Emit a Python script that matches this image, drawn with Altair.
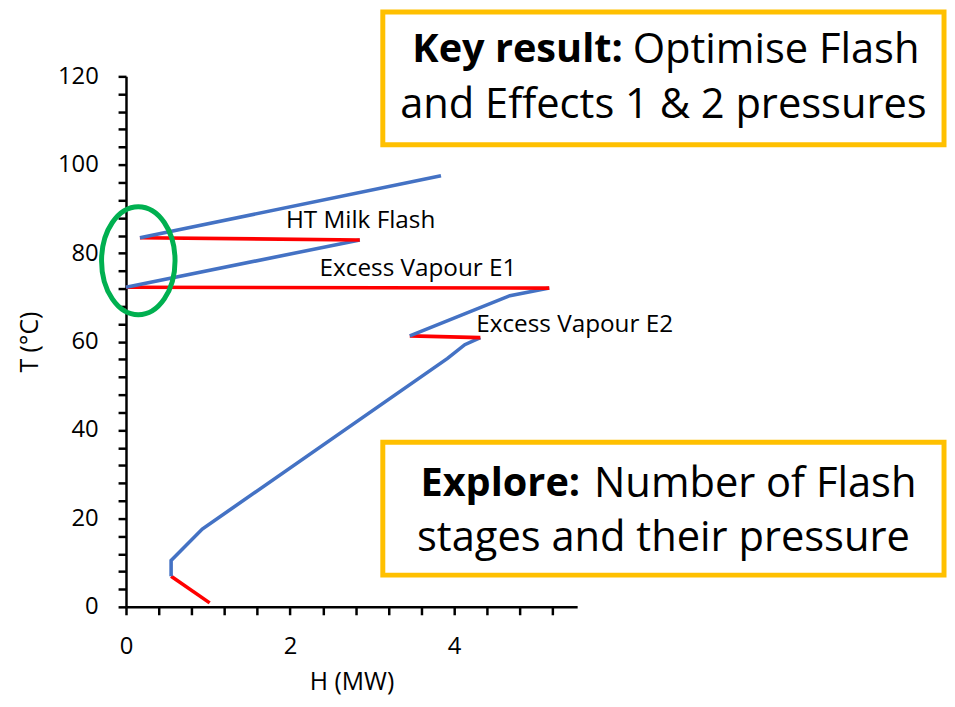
import altair as alt
import pandas as pd

# ---- curve data ----
H_MW = [1.02, 0.55, 0.55, 0.93, 3.92, 4.13, 4.32, 3.46, 4.68, 5.16, 0.00, 2.85, 0.17, 3.84]
T_C = [0.9, 6.9, 10.5, 17.6, 56.2, 59.3, 60.9, 61.3, 70.4, 72.1, 72.3, 83.0, 83.5, 97.5]
SEG_COLOUR = ["red", "blue", "blue", "blue", "blue", "blue", "red", "blue", "blue",
              "red", "blue", "red", "blue"]

# ---- in-chart labels ----
LABEL_TEXT = ["HT Milk Flash", "Excess Vapour E1", "Excess Vapour E2"]
LABEL_H = [2.86, 3.56, 5.47]
LABEL_T = [87.3, 76.4, 63.7]

# ---- highlight ellipse ----
ELLIPSE_H = [0.15]
ELLIPSE_T = [78.3]

# ---- text boxes ----
BOX_BOLD = ["Key result:", "Explore:"]
BOX_REST = ["Optimise Flash", "Number of Flash"]
BOX_LINE2 = ["and Effects 1 & 2 pressures", "stages and their pressure"]

# ticks
X_TICKS = [round(i * 0.4, 1) for i in range(14)]
Y_TICKS = list(range(0, 121, 4))

FONT = "Open Sans"

rows = []
run = 0
for i, c in enumerate(SEG_COLOUR):
    if i > 0 and c != SEG_COLOUR[i - 1]:
        run += 1
    rows.append(dict(run=run, order=i, H=H_MW[i], T=T_C[i], colour=c))
    rows.append(dict(run=run, order=i + 1, H=H_MW[i + 1], T=T_C[i + 1], colour=c))
curve = pd.DataFrame(rows).drop_duplicates(subset=["run", "order"])

xs = alt.Scale(domain=[0, 5.5], nice=False, zero=False)
ys = alt.Scale(domain=[0, 120], nice=False, zero=False)

common_axis = dict(
    grid=False, tickSize=8, tickWidth=2.5, domainWidth=2.5, tickCount=200,
    domainColor="black", tickColor="black", labelColor="black",
    labelFontSize=24, labelFont=FONT, labelPadding=20,
    titleFontSize=25, titleFont=FONT, titleFontWeight="normal", titleColor="black",
    titleBaseline="middle", labelFlush=False, labelOverlap=False,
)
x_axis = alt.Axis(
    values=X_TICKS,
    labelExpr="abs(datum.value - round(datum.value / 2) * 2) < 0.001 ? format(datum.value, 'd') : ''",
    titleY=75, **common_axis,
)
y_axis = alt.Axis(
    values=Y_TICKS,
    labelExpr="datum.value % 20 == 0 ? format(datum.value, 'd') : ''",
    titleX=-97, **common_axis,
)

X_ENC = alt.X("H:Q", scale=xs, axis=x_axis, title="H (MW)")
Y_ENC = alt.Y("T:Q", scale=ys, axis=y_axis, title="T (°C)")

lines = alt.Chart(curve).mark_line(strokeWidth=3.6, clip=False).encode(
    x=X_ENC,
    y=Y_ENC,
    color=alt.Color("colour:N", scale=alt.Scale(domain=["blue", "red"],
                                                range=["#4472C4", "#FF0000"]), legend=None),
    detail="run:N",
    order="order:Q",
)

labels = alt.Chart(pd.DataFrame({"text": LABEL_TEXT, "H": LABEL_H, "T": LABEL_T})).mark_text(
    font=FONT, fontSize=24.5, color="black", align="center", baseline="middle", clip=False
).encode(x=X_ENC, y=Y_ENC, text="text:N")

ellipse = alt.Chart(pd.DataFrame({"H": ELLIPSE_H, "T": ELLIPSE_T})).mark_point(
    shape="M -0.68 0 A 0.68 1 0 1 0 0.68 0 A 0.68 1 0 1 0 -0.68 0 Z",
    size=11881, filled=False, stroke="#00B050", strokeWidth=5, opacity=1, clip=False
).encode(x=X_ENC, y=Y_ENC)

# box geometry in pixels relative to the plot origin (annotation frames)
BOX_TOP = [-65, 369]
BOX_BOTTOM = [69, 503]
BOX_LEFT = 259
BOX_RIGHT = 825
BOX_CENTER = 542
BOLD_END = [501, 458]
REST_START = [511, 472]
LINE_SHIFT = [0, 3]

one = pd.DataFrame({"k": [0]})
box_layers = []
for b in range(2):
    top, bot = BOX_TOP[b], BOX_BOTTOM[b]
    l1 = top + (bot - top) * 0.29 + LINE_SHIFT[b]
    l2 = top + (bot - top) * 0.70 + LINE_SHIFT[b]
    box_layers.append(alt.Chart(one).mark_rect(
        fill="white", stroke="#FFC000", strokeWidth=5).encode(
        x=alt.value(BOX_LEFT), x2=alt.value(BOX_RIGHT), y=alt.value(top), y2=alt.value(bot)))
    box_layers.append(alt.Chart(one).mark_text(
        font=FONT, fontSize=40, fontWeight="bold", align="right", baseline="middle",
        color="black", text=BOX_BOLD[b]).encode(x=alt.value(BOLD_END[b]), y=alt.value(l1)))
    box_layers.append(alt.Chart(one).mark_text(
        font=FONT, fontSize=42, align="left", baseline="middle",
        color="black", text=BOX_REST[b]).encode(x=alt.value(REST_START[b]), y=alt.value(l1)))
    box_layers.append(alt.Chart(one).mark_text(
        font=FONT, fontSize=42, align="center", baseline="middle",
        color="black", text=BOX_LINE2[b]).encode(x=alt.value(BOX_CENTER), y=alt.value(l2)))

chart = alt.layer(lines, ellipse, labels, *box_layers).properties(
    width=455, height=535,
    padding={"left": 119, "top": 66, "right": 373, "bottom": 90},
    autosize=alt.AutoSizeParams(type="none"),
    background="white",
).configure_view(stroke=None)

chart.save("out.html", embed_options={"renderer": "svg", "actions": False})
